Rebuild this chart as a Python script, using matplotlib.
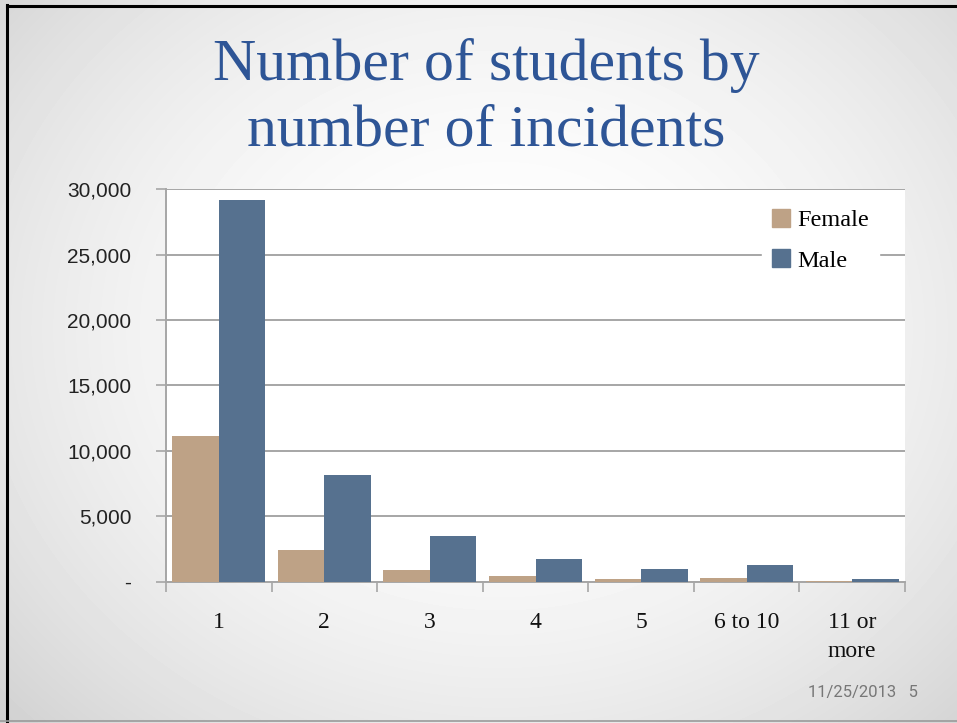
import numpy as np
import matplotlib
matplotlib.use("Agg")
from matplotlib import pyplot as plt
from matplotlib.patches import Patch

categories = ["1", "2", "3", "4", "5", "6 to 10", "11 or\nmore"]
female = [11100, 2400, 900, 430, 200, 260, 30]
male = [29200, 8150, 3500, 1750, 920, 1300, 180]
yticks = [0, 5000, 10000, 15000, 20000, 25000, 30000]
ytick_labels = ["-", "5,000", "10,000", "15,000", "20,000", "25,000", "30,000"]

FEMALE_C = "#BEA286"
MALE_C = "#56718F"
TITLE_C = "#2E5596"
GRID_C = "#A6A6A6"
SERIF = ["Liberation Serif", "DejaVu Serif"]
SANS = ["Liberation Sans", "DejaVu Sans"]

fig = plt.figure(figsize=(9.57, 7.23), dpi=100)

# slide background: radial gradient, white in the middle, grey at the edges
bg = fig.add_axes([0, 0, 1, 1], zorder=-10)
yy, xx = np.mgrid[0:723, 0:957]
r = np.sqrt(((xx - 500) / 640.0) ** 2 + ((yy - 330) / 540.0) ** 2)
shade = np.clip(1.0 - 0.16 * r ** 2.0, 0.82, 1.0)
bg.imshow(shade, cmap="gray", vmin=0, vmax=1, aspect="auto",
          extent=[0, 1, 0, 1], origin="upper")
bg.set_xlim(0, 1)
bg.set_ylim(0, 1)
bg.axis("off")
# slide frame
bg.plot([7.5 / 957, 7.5 / 957], [0, 1 - 5 / 723], color="black", lw=2.2)
bg.plot([7.5 / 957, 1], [1 - 6 / 723, 1 - 6 / 723], color="black", lw=2.2)
bg.plot([0, 1], [2 / 723, 2 / 723], color="#9a9a9a", lw=1.2)

# title
fig.text(0.508, 1 - 80 / 723, "Number of students by", ha="center",
         va="baseline", fontsize=43, color=TITLE_C, family=SERIF)
fig.text(0.508, 1 - 145 / 723, "number of incidents", ha="center",
         va="baseline", fontsize=43, color=TITLE_C, family=SERIF)

ax = fig.add_axes([166 / 957, 141.5 / 723, 739 / 957, 392.3 / 723])
ax.set_facecolor("white")

x = np.arange(len(categories))
w = 0.44
ax.bar(x - w / 2, female, width=w, color=FEMALE_C, label="Female", zorder=3)
ax.bar(x + w / 2, male, width=w, color=MALE_C, label="Male", zorder=3)

ax.set_xlim(-0.5, len(categories) - 0.5)
ax.set_ylim(0, 30000)

ax.set_yticks(yticks)
ax.set_yticklabels(ytick_labels, family=SANS, fontsize=15, color="#222222")
ax.yaxis.grid(True, color=GRID_C, lw=1.4, zorder=0)
ax.tick_params(axis="y", length=7, width=1.2, color=GRID_C, pad=18)

# category labels centred, ticks on the boundaries
ax.set_xticks(x)
ax.set_xticklabels(categories, family=SERIF, fontsize=17, color="#111111",
                   linespacing=1.5, va="top")
ax.tick_params(axis="x", length=0, pad=22)
ax.set_xticks(np.arange(-0.5, len(categories)), minor=True)
ax.tick_params(axis="x", which="minor", length=7, width=1.2, color=GRID_C)

for side in ["top", "right"]:
    ax.spines[side].set_visible(False)
for side in ["left", "bottom"]:
    ax.spines[side].set_color(GRID_C)
    ax.spines[side].set_linewidth(1.4)
ax.set_axisbelow(True)

handles = [Patch(color=FEMALE_C), Patch(color=MALE_C)]
leg = ax.legend(handles, ["Female", "Male"], loc="upper left",
                bbox_to_anchor=(762 / 957, 1 - 199 / 723),
                bbox_transform=fig.transFigure, frameon=True,
                prop={"family": SERIF, "size": 17.5}, handlelength=0.75,
                handleheight=0.75, handletextpad=0.3, labelspacing=0.75,
                borderpad=0.4, borderaxespad=0, fancybox=False)
leg.get_frame().set_facecolor("white")
leg.get_frame().set_edgecolor("white")
leg.get_frame().set_alpha(1)

fig.text(918 / 957, 1 - 692 / 723, "11/25/2013   5", ha="right", va="center",
         fontsize=12, color="#777777", family=["Roboto", "DejaVu Sans"])

plt.savefig("out.png", dpi=100)
